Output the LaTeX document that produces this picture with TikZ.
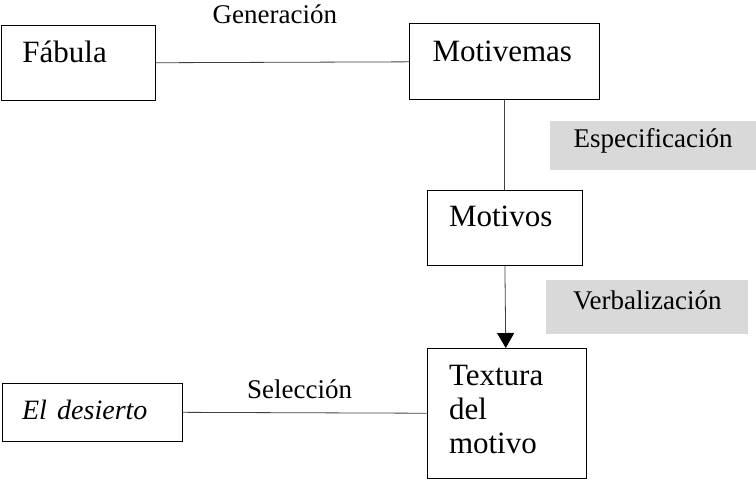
\documentclass[tikz,border=0pt]{standalone}
\usepackage{fontspec}
\setmainfont{Liberation Serif}
\usepackage{xcolor}
\usepackage{tikz}
\usetikzlibrary{positioning,arrows.meta}
\definecolor{tagfill}{HTML}{D9D9D9}
\definecolor{linegray}{HTML}{404040}

\begin{document}
\begin{tikzpicture}[
        x=1pt, y=-1pt,
        box/.style={rectangle, draw=black, line width=1pt, inner ysep=0pt, align=left, font=\fontsize{31pt}{34pt}\selectfont},
        tag/.style={rectangle, fill=tagfill, inner sep=0pt, text height=0.7em, text depth=0.22em, font=\fontsize{27pt}{30pt}\selectfont},
        label/.style={inner sep=0pt, text height=0.7em, text depth=0.22em, font=\fontsize{27pt}{30pt}\selectfont},
        link/.style={draw=linegray, line width=0.8pt},
        arrow/.style={link, -{Triangle[width=17pt, length=15pt, color=black]}},
      ]
      \useasboundingbox (0,0) rectangle (756,480);
      \node [box, anchor=north west, inner xsep=21pt, text width=112pt, text height=37pt, text depth=38pt] (fabula) at (1,25) {Fábula};
      \node [box, right=253pt of fabula, yshift=1.5pt, inner xsep=23pt, text width=144pt, text height=38pt, text depth=38pt] (motivemas) {Motivemas};
      \node [box, below=90pt of motivemas, inner xsep=22pt, text width=111pt, text height=36pt, text depth=39pt] (motivos) {Motivos};
      \node [box, below=82pt of motivos, xshift=2pt, inner xsep=22pt, text width=115pt, text height=37pt, text depth=93pt] (textura) {Textura\\del\\motivo};
      \node [box, left=244pt of textura, yshift=1.5pt, inner xsep=20pt, text width=140pt, text height=36pt, text depth=22pt] (desierto) {\fontsize{28pt}{34pt}\selectfont\itshape El desierto};
      \draw [link] (fabula) -- node [label, pos=0.47, above=36pt] {Generación} (motivemas);
      \draw [link] (motivemas) -- node [tag, right=44.75pt, minimum width=207pt, minimum height=49pt] {Especificación} (motivos);
      \draw [arrow] (motivos) -- node [tag, right=40.5pt, minimum width=202pt, minimum height=54pt] {Verbalización} (textura);
      \draw [link] (desierto) -- node [label, pos=0.48, above=11.8pt] {Selección} (textura);
    \end{tikzpicture}
\end{document}
